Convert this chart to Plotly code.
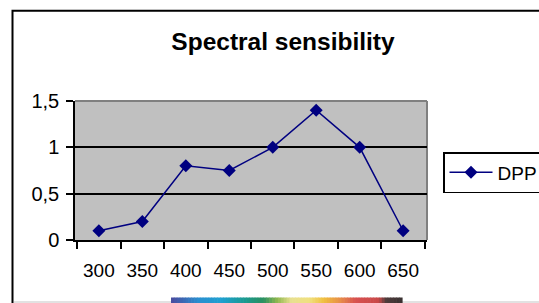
import plotly.graph_objects as go

# ---- data ----
wavelengths = ["300", "350", "400", "450", "500", "550", "600", "650"]
dpp_values = [0.1, 0.2, 0.8, 0.75, 1.0, 1.4, 1.0, 0.1]
y_tickvals = [0, 0.5, 1, 1.5]
y_ticktext = ["0", "0,5", "1", "1,5"]
series_name = "DPP"
title_text = "Spectral sensibility"

# decorative spectrum strip colour stops (position, colour)
spectrum_stops = [
    (0.00, (75, 74, 158)), (0.12, (42, 143, 208)), (0.22, (30, 160, 208)),
    (0.32, (26, 154, 144)), (0.40, (42, 144, 96)), (0.46, (144, 184, 80)),
    (0.52, (232, 224, 144)), (0.60, (240, 224, 128)), (0.66, (240, 192, 64)),
    (0.73, (232, 144, 72)), (0.80, (216, 80, 80)), (0.90, (200, 72, 72)),
    (0.93, (80, 60, 60)), (1.00, (56, 48, 48)),
]

FONT = "Arial, Liberation Sans, sans-serif"
W, H = 539, 303
L, R, T, B = 75, 427, 101, 240  # plot area in pixels

def px_x(p):
    return (p - L) / (R - L)

def px_y(p):
    return (B - p) / (B - T)

fig = go.Figure()
fig.add_trace(go.Scatter(
    x=wavelengths, y=dpp_values, name=series_name, mode="lines+markers",
    line=dict(color="#000080", width=1.5),
    marker=dict(symbol="diamond", size=10, color="#000080"),
))

shapes = []
# outer chart border
shapes.append(dict(type="rect", xref="paper", yref="paper",
                   x0=px_x(12.5), x1=px_x(580), y0=px_y(10.7), y1=px_y(340),
                   line=dict(color="black", width=2), layer="below"))
# faint bottom line
shapes.append(dict(type="line", xref="paper", yref="paper",
                   x0=px_x(14), x1=px_x(580), y0=px_y(302), y1=px_y(302),
                   line=dict(color="#d8d8d8", width=1.5), layer="below"))
# plot area gray border (top & right)
shapes.append(dict(type="line", xref="paper", yref="paper",
                   x0=0, x1=1, y0=1, y1=1,
                   line=dict(color="#808080", width=2), layer="between"))
shapes.append(dict(type="line", xref="paper", yref="paper",
                   x0=1, x1=1, y0=0, y1=1,
                   line=dict(color="#808080", width=2), layer="between"))

# spectrum strip
def interp_color(t):
    for (p0, c0), (p1, c1) in zip(spectrum_stops[:-1], spectrum_stops[1:]):
        if p0 <= t <= p1:
            f = 0 if p1 == p0 else (t - p0) / (p1 - p0)
            return "rgb(%d,%d,%d)" % tuple(round(a + (b - a) * f) for a, b in zip(c0, c1))
    return "rgb(%d,%d,%d)" % spectrum_stops[-1][1]

sx0, sx1 = 171, 402
n = 80
for i in range(n):
    a = sx0 + (sx1 - sx0) * i / n
    b = sx0 + (sx1 - sx0) * (i + 1) / n + 0.6
    shapes.append(dict(type="rect", xref="paper", yref="paper",
                       x0=px_x(a), x1=px_x(b), y0=px_y(297.5), y1=px_y(320),
                       line=dict(width=0), fillcolor=interp_color((i + 0.5) / n),
                       layer="above"))

fig.update_layout(
    width=W, height=H,
    margin=dict(l=L, r=W - R, t=T, b=H - B, pad=0, autoexpand=False),
    paper_bgcolor="white", plot_bgcolor="#c0c0c0",
    font=dict(family=FONT, size=20, color="black"),
    title=dict(text="<b>" + title_text + "</b>", xref="paper", x=px_x(283), xanchor="center",
               yref="container", y=1 - 41 / H, yanchor="middle",
               font=dict(family=FONT, size=24.5, color="black")),
    showlegend=True,
    legend=dict(x=px_x(443), y=px_y(152), xanchor="left", yanchor="top",
                bordercolor="black", borderwidth=1.5, bgcolor="white",
                font=dict(family=FONT, size=19), tracegroupgap=0, itemwidth=43),
    shapes=shapes,
)
fig.update_xaxes(type="category", tickson="boundaries", ticks="outside", ticklen=7,
                 tickcolor="black", tickwidth=1.5, showline=True, linecolor="black",
                 linewidth=1.5, showgrid=False, zeroline=False, tickangle=0,
                 automargin=False, ticklabelstandoff=12,
                 tickfont=dict(family=FONT, size=19))
fig.update_yaxes(range=[0, 1.5], tickvals=y_tickvals, ticktext=y_ticktext,
                 ticks="outside", ticklen=7, tickcolor="black", tickwidth=1.5,
                 showline=True, linecolor="black", linewidth=1.5, automargin=False,
                 ticklabelstandoff=3,
                 showgrid=True, gridcolor="black", gridwidth=1.5, zeroline=False,
                 tickfont=dict(family=FONT, size=20))

fig.write_html("out.html", config={"displayModeBar": False}, post_script=(
    "document.body.style.margin='0';"
    "document.body.style.overflow='hidden';"
    "document.documentElement.style.overflow='hidden';"))
